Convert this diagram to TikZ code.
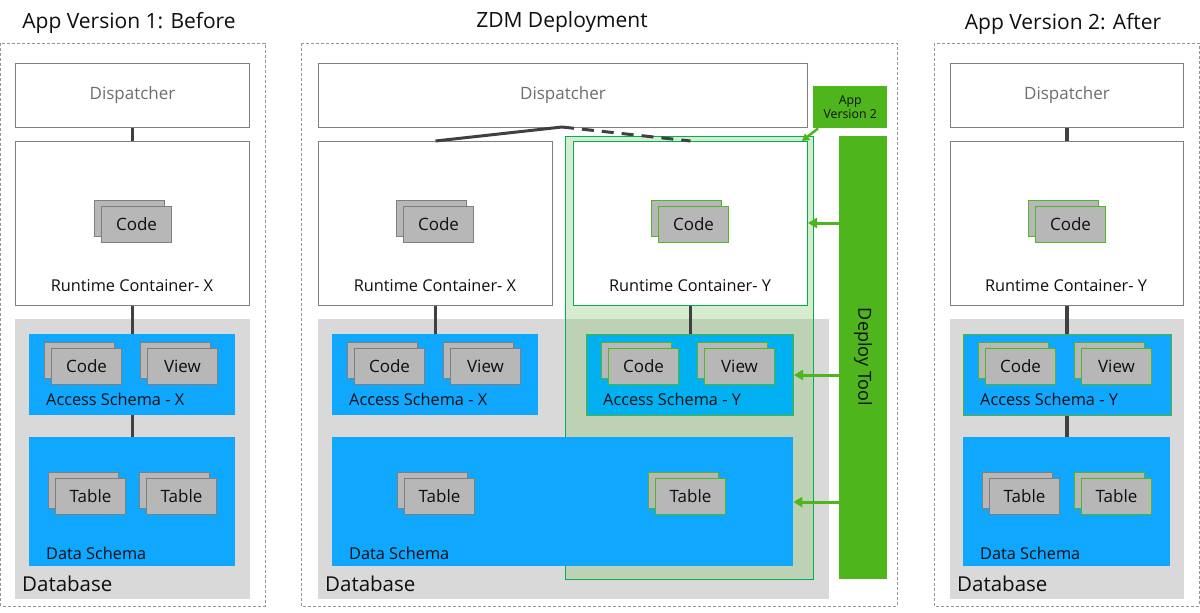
\documentclass[tikz,border=0pt]{standalone}
\usepackage{fontspec}
\setmainfont{Open Sans}
\usetikzlibrary{arrows.meta,calc}
\definecolor{boxgray}{RGB}{183,183,183}
\definecolor{boxedge}{RGB}{127,127,127}
\definecolor{dbgray}{RGB}{217,217,217}
\definecolor{blueA}{RGB}{16,167,255}
\definecolor{blueY}{RGB}{0,176,240}
\definecolor{linegray}{RGB}{64,64,64}
\definecolor{greenbar}{RGB}{78,181,29}
\definecolor{greenedge}{RGB}{0,176,80}
\definecolor{greenbox}{RGB}{80,182,40}
\definecolor{overlaygreen}{RGB}{125,195,98}
\definecolor{disptext}{RGB}{110,110,110}
\definecolor{dashgray}{RGB}{150,150,150}
\definecolor{txt}{RGB}{15,15,15}
\tikzset{
  panel/.style={draw=dashgray, dash pattern=on 3pt off 2pt, line width=0.8pt},
  framebox/.style={draw=boxedge, fill=white, line width=1pt},
  stackbox/.style={fill=boxgray, minimum width=70pt, minimum height=36pt, inner sep=0pt, line width=1pt, font=\fontsize{17}{18}\selectfont, text=txt},
  title/.style={font=\fontsize{21}{24}\selectfont, text=txt},
  lbl/.style={font=\fontsize{16.3}{18}\selectfont, text=txt, inner sep=0pt},
  dblbl/.style={font=\fontsize{20.5}{24}\selectfont, text=txt, inner sep=0pt, anchor=west},
  disp/.style={font=\fontsize{17}{18}\selectfont, text=disptext},
  conn/.style={draw=linegray, line width=3.4pt},
  garrow/.style={draw=greenbar, line width=3pt, -{Triangle[width=10pt,length=9pt]}},
}
\newcommand\mybox[6]{\node[#1, anchor=north west, inner sep=0pt, minimum width={(#5-#3)*1pt}, minimum height={(#6-#4)*1pt}] (#2) at (#3,#4) {};}
\newcommand\stk[5]{%
  \node[stackbox, draw=#5, anchor=north west] (#1b) at (#2,#3) {};
  \node[stackbox, draw=#5, anchor=north west] (#1) at ($(#2,#3)+(7,6)$) {#4};}
\begin{document}
\begin{tikzpicture}[x=1pt,y=-1pt]
\useasboundingbox (0,0) rectangle (1200,613);
\fill[white] (0,0) rectangle (1200,613);

% ===== Left panel =====
\draw[panel] (0.6,43) rectangle (265,606);
\node[title] (t1) at (129,23) {App Version 1: Before};
\mybox{framebox}{disp1}{15}{63}{249}{127}
\node[disp] at (disp1.center) {Dispatcher};
\mybox{framebox}{rt1}{15}{141}{249}{305}
\stk{rc1}{94}{200}{Code}{boxedge}
\node[lbl] (rl1) at (132,286) {Runtime Container- X};
\mybox{fill=dbgray}{db1}{15}{319}{250}{599}
\mybox{fill=blueA}{acc1}{29}{334}{235}{415}
\stk{ac1}{44}{342}{Code}{boxedge}
\stk{av1}{140}{342}{View}{boxedge}
\node[lbl, anchor=west] (al1) at (46,399) {Access Schema - X};
\mybox{fill=blueA}{data1}{29}{437}{235}{566}
\stk{dt1}{48}{472}{Table}{boxedge}
\stk{dt2}{139}{472}{Table}{boxedge}
\node[lbl, anchor=west] (dl1) at (46,553) {Data Schema};
\node[dblbl] (dbl1) at (22,584) {Database};
\draw[conn] (disp1.south) -- (disp1.south |- rt1.north);
\draw[conn] (disp1.south |- rt1.south) -- (disp1.south |- acc1.north);
\draw[conn] (disp1.south |- acc1.south) -- (disp1.south |- data1.north);

% ===== Middle panel =====
\draw[panel] (301,43) rectangle (897,606);
\node[title] (t2) at (562,22) {ZDM Deployment};
\mybox{framebox}{dispM}{318}{63}{807}{127}
\node[disp] at (dispM.center) {Dispatcher};
\mybox{framebox}{rtX}{318}{141}{552}{305}
\stk{rcX}{396}{200}{Code}{boxedge}
\node[lbl] (rlX) at (435,286) {Runtime Container- X};
\mybox{fill=dbgray}{dbM}{318}{319}{829}{599}
\fill[overlaygreen, fill opacity=0.3] (565,136) rectangle (813,579);
\draw[greenedge, line width=1pt] (565,136) rectangle (813,579);
\mybox{draw=greenedge, fill=white, line width=1pt}{rtY}{573}{141}{807}{305}
\stk{rcY}{651}{200}{Code}{greenbox}
\node[lbl] (rlY) at (690,286) {Runtime Container- Y};
\mybox{fill=blueA}{accX}{332}{334}{538}{415}
\stk{acX}{347}{342}{Code}{boxedge}
\stk{avX}{443}{342}{View}{boxedge}
\node[lbl, anchor=west] (alX) at (349,399) {Access Schema - X};
\mybox{fill=blueY, draw=greenbox, line width=1pt}{accY}{586}{334}{793}{415}
\stk{acY}{601}{342}{Code}{greenbox}
\stk{avY}{697}{342}{View}{greenbox}
\node[lbl, anchor=west] (alY) at (603,399) {Access Schema - Y};
\mybox{fill=blueA}{dataM}{332}{437}{793}{566}
\stk{dtM1}{397}{472}{Table}{boxedge}
\stk{dtM2}{648}{472}{Table}{greenbox}
\node[lbl, anchor=west] (dlM) at (349,553) {Data Schema};
\node[dblbl] (dblM) at (325,584) {Database};
\draw[conn] (rtX.south) -- (rtX.south |- accX.north);
\draw[conn] ($(accX.south)+(3,0)$) -- ($(accX.south)+(3,0)$ |- dataM.north);
\draw[conn] (rtY.south) -- (rtY.south |- accY.north);
\draw[conn] ($(accY.south)+(3,0)$) -- ($(accY.south)+(3,0)$ |- dataM.north);
\coordinate (dp) at (562,127);
\draw[draw=linegray, line width=3pt] (rtX.north) -- (dp);
\draw[draw=linegray, line width=3pt, dash pattern=on 12pt off 8pt] (dp) -- (rtY.north);
% deploy tool
\mybox{fill=greenbar}{deploy}{839}{136}{887}{579}
\node[lbl, rotate=-90, font=\fontsize{18}{20}\selectfont] (dtl) at (863,357) {Deploy Tool};
\mybox{fill=greenbar}{callout}{813}{86}{887}{128}
\node[align=center, font=\fontsize{12.3}{14}\selectfont, text=txt, inner sep=0pt] (calltxt) at (callout.center) {App\\Version 2};
\draw[draw=greenbar, line width=2.5pt, -{Triangle[width=8pt,length=7pt]}] ($(callout.south west)+(5,0)$) -- ($(rtY.north east)+(-6,0)$);
\draw[garrow] (deploy.west |- 0,223) -- (rtY.east |- 0,223);
\draw[garrow] (deploy.west |- 0,375) -- (accY.east |- 0,375);
\draw[garrow] (deploy.west |- 0,502) -- (dataM.east |- 0,502);

% ===== Right panel =====
\draw[panel] (934,43) rectangle (1199.2,606);
\node[title] (t3) at (1063,24) {App Version 2: After};
\mybox{framebox}{disp3}{950}{63}{1183}{127}
\node[disp] at (disp3.center) {Dispatcher};
\mybox{framebox}{rt3}{950}{141}{1183}{305}
\stk{rc3}{1028}{200}{Code}{greenbox}
\node[lbl] (rl3) at (1066,286) {Runtime Container- Y};
\mybox{fill=dbgray}{db3}{950}{319}{1184}{599}
\mybox{fill=blueA, draw=greenbox, line width=1pt}{acc3}{963}{334}{1171}{415}
\stk{ac3}{978}{342}{Code}{greenbox}
\stk{av3}{1074}{342}{View}{greenbox}
\node[lbl, anchor=west] (al3) at (980,399) {Access Schema - Y};
\mybox{fill=blueA}{data3}{963}{437}{1170}{566}
\stk{dt31}{982}{472}{Table}{boxedge}
\stk{dt32}{1074}{472}{Table}{greenbox}
\node[lbl, anchor=west] (dl3) at (980,553) {Data Schema};
\node[dblbl] (dbl3) at (957,584) {Database};
\draw[conn] (disp3.south) -- (disp3.south |- rt3.north);
\draw[conn] (disp3.south |- rt3.south) -- (disp3.south |- acc3.north);
\draw[conn] (disp3.south |- acc3.south) -- (disp3.south |- data3.north);
\end{tikzpicture}
\end{document}
